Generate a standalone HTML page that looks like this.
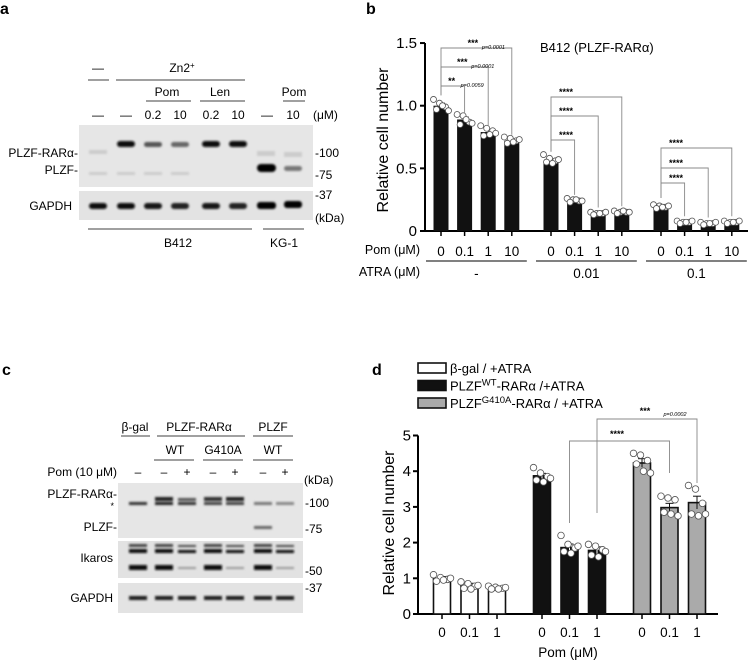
<!DOCTYPE html>
<html><head><meta charset="utf-8"><style>
body{margin:0;background:#fff}
svg{display:block;font-family:"Liberation Sans",Arial,sans-serif}
</style></head><body>
<svg id="fig" width="750" height="663" viewBox="0 0 750 663" xmlns="http://www.w3.org/2000/svg">
<defs>
<filter id="bl" x="-20%" y="-100%" width="140%" height="300%"><feGaussianBlur stdDeviation="1.1"/></filter>
</defs>
<text x="0" y="14" font-size="16" font-weight="bold">a</text>
<text x="366" y="14" font-size="16" font-weight="bold">b</text>
<text x="2" y="375" font-size="16" font-weight="bold">c</text>
<text x="372" y="375" font-size="16" font-weight="bold">d</text>

<g font-size="12">
<text x="98" y="72" text-anchor="middle">—</text>
<line x1="88" y1="80" x2="109" y2="80" stroke="#000" stroke-width="0.8"/>
<text x="182" y="72" text-anchor="middle">Zn2<tspan font-size="8" dy="-4">+</tspan></text>
<line x1="116" y1="80" x2="245" y2="80" stroke="#000" stroke-width="0.8"/>
<text x="167" y="96" text-anchor="middle">Pom</text>
<line x1="146" y1="101" x2="191" y2="101" stroke="#000" stroke-width="0.8"/>
<text x="220" y="96" text-anchor="middle">Len</text>
<line x1="200" y1="101" x2="245" y2="101" stroke="#000" stroke-width="0.8"/>
<text x="294" y="96" text-anchor="middle">Pom</text>
<line x1="283" y1="101" x2="305" y2="101" stroke="#000" stroke-width="0.8"/>
<g text-anchor="middle">
<text x="98" y="119">—</text><text x="126" y="119">—</text><text x="153" y="119">0.2</text><text x="180" y="119">10</text>
<text x="211" y="119">0.2</text><text x="238" y="119">10</text><text x="267" y="119">—</text><text x="293" y="119">10</text>
</g>
<text x="313" y="119">(μM)</text>
<rect x="79" y="125" width="234" height="62" fill="#e6e6e6"/>
<rect x="79" y="191" width="234" height="29" fill="#e3e3e3"/>
<g filter="url(#bl)">
<rect x="117" y="141" width="18" height="6" rx="3" fill="#111"/>
<rect x="144" y="142" width="18" height="5" rx="2.5" fill="#555"/>
<rect x="171" y="142" width="18" height="5" rx="2.5" fill="#666"/>
<rect x="202" y="141" width="18" height="6" rx="3" fill="#111"/>
<rect x="229" y="141" width="18" height="6" rx="3" fill="#111"/>
<rect x="257" y="164" width="19" height="8" rx="4" fill="#000"/>
<rect x="284" y="166" width="18" height="5" rx="2.5" fill="#777"/>
<g fill="#ccc"><rect x="89" y="150" width="18" height="4"/><rect x="89" y="172" width="18" height="3"/><rect x="117" y="172" width="18" height="3"/><rect x="144" y="172" width="18" height="3"/><rect x="171" y="172" width="18" height="3"/><rect x="257" y="151" width="18" height="5"/><rect x="284" y="152" width="18" height="5"/></g>
<rect x="89" y="203" width="18" height="6" rx="3" fill="#111"/><rect x="117" y="203" width="18" height="6" rx="3" fill="#111"/>
<rect x="144" y="203" width="18" height="6" rx="3" fill="#151515"/><rect x="171" y="203" width="18" height="6" rx="3" fill="#222"/>
<rect x="202" y="203" width="18" height="6" rx="3" fill="#151515"/><rect x="229" y="203" width="18" height="6" rx="3" fill="#222"/>
<rect x="257" y="202" width="19" height="7" rx="3" fill="#000"/><rect x="284" y="201" width="18" height="7" rx="3" fill="#000"/>
</g>
<g text-anchor="end"><text x="78" y="157">PLZF-RARα-</text><text x="78" y="174">PLZF-</text><text x="72" y="210">GAPDH</text></g>
<text x="315" y="157">-100</text><text x="315" y="179">-75</text><text x="315" y="199">-37</text><text x="315" y="222">(kDa)</text>
<line x1="88" y1="229" x2="252" y2="229" stroke="#000" stroke-width="0.8"/>
<line x1="263" y1="229" x2="304" y2="229" stroke="#000" stroke-width="0.8"/>
<text x="178" y="247" text-anchor="middle">B412</text><text x="284" y="247" text-anchor="middle">KG-1</text>
</g>

<g font-size="12">
<text x="135" y="431" text-anchor="middle">β-gal</text>
<line x1="121" y1="436" x2="150" y2="436" stroke="#000" stroke-width="0.8"/>
<text x="199" y="431" text-anchor="middle">PLZF-RARα</text>
<line x1="157" y1="436" x2="245" y2="436" stroke="#000" stroke-width="0.8"/>
<text x="273" y="431" text-anchor="middle">PLZF</text>
<line x1="253" y1="436" x2="293" y2="436" stroke="#000" stroke-width="0.8"/>
<text x="175" y="454" text-anchor="middle">WT</text><line x1="154" y1="460" x2="194" y2="460" stroke="#000" stroke-width="0.8"/>
<text x="223" y="454" text-anchor="middle">G410A</text><line x1="203" y1="460" x2="243" y2="460" stroke="#000" stroke-width="0.8"/>
<text x="273" y="454" text-anchor="middle">WT</text><line x1="253" y1="460" x2="293" y2="460" stroke="#000" stroke-width="0.8"/>
<text x="117" y="476" text-anchor="end">Pom (10 μM)</text>
<g text-anchor="middle"><text x="138" y="476">–</text><text x="164" y="476">–</text><text x="187" y="476">+</text><text x="213" y="476">–</text><text x="235" y="476">+</text><text x="263" y="476">–</text><text x="285" y="476">+</text></g>
<text x="304" y="484">(kDa)</text>
<rect x="118" y="483" width="185" height="55" fill="#e6e6e6"/>
<rect x="118" y="541" width="185" height="37" fill="#e2e2e2"/>
<rect x="118" y="583" width="185" height="30" fill="#e3e3e3"/>
<g filter="url(#bl)">
<rect x="129" y="502" width="18" height="3" fill="#333"/>
<rect x="155" y="497" width="18" height="4" fill="#222"/><rect x="155" y="502" width="18" height="3" fill="#222"/>
<rect x="178" y="498" width="18" height="3" fill="#555"/><rect x="178" y="502" width="18" height="3" fill="#333"/>
<rect x="204" y="497" width="18" height="4" fill="#333"/><rect x="204" y="502" width="18" height="3" fill="#444"/>
<rect x="226" y="497" width="18" height="4" fill="#222"/><rect x="226" y="502" width="18" height="3" fill="#444"/>
<rect x="254" y="502" width="18" height="3" fill="#777"/><rect x="276" y="502" width="18" height="3" fill="#888"/>
<rect x="254" y="526" width="18" height="3" fill="#666"/>
<g fill="#444"><rect x="129" y="544" width="18" height="3"/><rect x="155" y="544" width="18" height="3"/><rect x="178" y="545" width="18" height="2"/><rect x="204" y="544" width="18" height="3"/><rect x="226" y="545" width="18" height="2"/><rect x="254" y="544" width="18" height="3"/><rect x="276" y="545" width="18" height="2"/></g>
<g fill="#111"><rect x="129" y="549" width="18" height="4"/><rect x="155" y="549" width="18" height="4"/><rect x="178" y="550" width="18" height="3"/><rect x="204" y="549" width="18" height="4"/><rect x="226" y="550" width="18" height="3"/><rect x="254" y="549" width="18" height="4"/><rect x="276" y="550" width="18" height="3"/></g>
<g fill="#111"><rect x="129" y="565" width="18" height="5"/><rect x="155" y="565" width="18" height="5"/><rect x="204" y="565" width="18" height="5"/><rect x="254" y="565" width="18" height="5"/></g>
<g fill="#999"><rect x="178" y="567" width="18" height="2"/><rect x="226" y="567" width="18" height="2"/><rect x="276" y="567" width="18" height="2"/></g>
<g fill="#1a1a1a"><rect x="129" y="596" width="18" height="4"/><rect x="155" y="596" width="18" height="4"/><rect x="178" y="596" width="18" height="4"/><rect x="204" y="596" width="18" height="4"/><rect x="226" y="596" width="18" height="4"/><rect x="254" y="596" width="18" height="4"/><rect x="276" y="596" width="18" height="4"/></g>
</g>
<g text-anchor="end"><text x="117" y="498">PLZF-RARα-</text><text x="114" y="509" font-size="9">*</text><text x="117" y="531">PLZF-</text><text x="113" y="562">Ikaros</text><text x="113" y="602">GAPDH</text></g>
<text x="305" y="507">-100</text><text x="305" y="533">-75</text><text x="305" y="575">-50</text><text x="305" y="592">-37</text>
</g>

<g id="chartB"></g>
<g id="chartD"></g>
</svg>
<script>
const bPom = ["0","0.1","1","10"];
const bAtra = ["-","0.01","0.1"];
const bMeans = [[1.00,0.89,0.79,0.72],[0.56,0.24,0.14,0.15],[0.19,0.07,0.06,0.07]];
const bSem = [[0.02,0.02,0.02,0.01],[0.01,0.01,0.01,0.01],[0.01,0.005,0.005,0.005]];
const bPts = [[[1.05,1.02,0.99,0.97,1.00,0.96],[0.93,0.92,0.87,0.85,0.89,0.86],[0.84,0.82,0.80,0.76,0.77,0.78],[0.75,0.74,0.72,0.70,0.71,0.73]],
 [[0.61,0.58,0.56,0.55,0.54,0.57],[0.26,0.25,0.24,0.23,0.25,0.24],[0.15,0.14,0.14,0.13,0.14,0.15],[0.16,0.15,0.15,0.14,0.16,0.15]],
 [[0.21,0.20,0.19,0.18,0.19,0.20],[0.08,0.07,0.07,0.06,0.07,0.08],[0.07,0.06,0.06,0.05,0.06,0.07],[0.08,0.07,0.07,0.06,0.07,0.08]]];
const bTicks = [0,0.5,1.0,1.5];
const bTickLabels = ["0","0.5","1.0","1.5"];

const dPom = ["0","0.1","1"];
const dSeries = ["β-gal / +ATRA","PLZF-WT-RARα /+ATRA","PLZF-G410A-RARα / +ATRA"];
const dMeans = [[1.00,0.80,0.73],[3.87,1.86,1.78],[4.23,2.98,3.12]];
const dSem = [[0.05,0.06,0.03],[0.07,0.10,0.10],[0.12,0.12,0.18]];
const dPts = [[[1.1,1.02,0.97,0.92,0.95,1.0],[0.9,0.85,0.78,0.72,0.7,0.8],[0.78,0.75,0.72,0.7,0.7,0.74]],
 [[4.1,3.95,3.85,3.75,3.7,3.8],[2.2,1.95,1.85,1.75,1.7,1.9],[1.95,1.9,1.8,1.65,1.6,1.75]],
 [[4.5,4.45,4.3,4.2,4.0,3.95],[3.3,3.25,3.2,2.85,2.8,2.75],[3.6,3.5,3.1,2.8,2.75,2.8]]];
const dTicks = [0,1,2,3,4,5];
const dFills = ["#fff","#111","#aaa"];

const NS="http://www.w3.org/2000/svg";
function mk(parent,tag,attrs,text){const e=document.createElementNS(NS,tag);for(const k in attrs)e.setAttribute(k,attrs[k]);if(text!==undefined)e.textContent=text;parent.appendChild(e);return e;}

(function(){
const g=document.getElementById('chartB');
const y0=231, pxu=125.3, axX=425;
const yB=v=>y0-v*pxu;
const xB=(gi,i)=>441+gi*110+i*23.6;
mk(g,'line',{x1:axX,y1:yB(1.5),x2:axX,y2:y0+1,stroke:'#000','stroke-width':2});
mk(g,'line',{x1:axX,y1:y0,x2:748,y2:y0,stroke:'#000','stroke-width':2});
bTicks.forEach((t,k)=>{
  const tk=mk(g,'line',{x1:axX-5,y1:yB(t),x2:axX,y2:yB(t),stroke:'#000','stroke-width':2});
  
  
  const tl=mk(g,'text',{x:axX-8,y:yB(t)+5,'font-size':15,'text-anchor':'end'},bTickLabels[k]);
  
  
});
const yl=mk(g,'text',{x:0,y:0,'font-size':16,'text-anchor':'middle',transform:'translate(388,140) rotate(-90)'},'Relative cell number');


const tt=mk(g,'text',{x:540,y:52,'font-size':13},'B412 (PLZF-RARα)');


mk(g,'text',{x:420,y:254,'font-size':12.5,'text-anchor':'end'},'Pom (μM)');
mk(g,'text',{x:420,y:276,'font-size':12.5,'text-anchor':'end'},'ATRA (μM)');
bMeans.forEach((grp,gi)=>{
  grp.forEach((v,i)=>{
    const cx=xB(gi,i);
    const bar=mk(g,'rect',{x:cx-7.5,y:yB(v),width:15,height:y0-yB(v),fill:'#111'});
    
    
    mk(g,'line',{x1:cx,y1:y0,x2:cx,y2:y0+5,stroke:'#000','stroke-width':1.5});
    mk(g,'text',{x:cx,y:256,'font-size':13.5,'text-anchor':'middle'},bPom[i]);
    const e=bSem[gi][i];
    mk(g,'line',{x1:cx,y1:yB(v+e),x2:cx,y2:yB(v),stroke:'#111','stroke-width':1});
    mk(g,'line',{x1:cx-4,y1:yB(v+e),x2:cx+4,y2:yB(v+e),stroke:'#111','stroke-width':1});
    bPts[gi][i].forEach((p,k)=>{
      const dot=mk(g,'circle',{cx:cx-6+(k%3)*6+(k>2?3:0)-1.5,cy:yB(p),r:3,fill:'#fff',stroke:'#555','stroke-width':0.8});
      
      
    });
  });
  mk(g,'line',{x1:xB(gi,0)-15,y1:261,x2:xB(gi,3)+15,y2:261,stroke:'#000','stroke-width':1});
  mk(g,'text',{x:(xB(gi,0)+xB(gi,3))/2,y:278,'font-size':13.5,'text-anchor':'middle'},bAtra[gi]);
});
const brk=[[0,1,86,'**','p=0.0059'],[0,2,67,'***','p=0.0001'],[0,3,48,'***','p=0.0001'],
 [1,1,140,'****',''],[1,2,116,'****',''],[1,3,97,'****',''],
 [2,1,183,'****',''],[2,2,168,'****',''],[2,3,148,'****','']];
brk.forEach(b=>{
  const [gi,i,yy,s,p]=b;
  const x1=xB(gi,0), x2=xB(gi,i);
  const top1=yB(bMeans[gi][0]+bSem[gi][0])-8, top2=yB(bMeans[gi][i])-6;
  const pl=mk(g,'polyline',{points:`${x1},${top1} ${x1},${yy} ${x2},${yy} ${x2},${top2}`,fill:'none',stroke:'#888','stroke-width':0.9});
  
  
  const sx = gi===0 ? x1+(x2-x1)*0.45 : x1+8;
  mk(g,'text',{x:sx,y:yy-2,'font-size':9,'font-weight':'bold','text-anchor':gi===0?'middle':'start'},s);
  if(p) mk(g,'text',{x:sx+9,y:yy+1,'font-size':5.5,'font-style':'italic'},p);
});
})();

(function(){
const g=document.getElementById('chartD');
const y0=614, pxu=35.7, axX=418;
const yD=v=>y0-v*pxu;
const xD=(gi,i)=>442+gi*100+i*27.5;
mk(g,'line',{x1:axX,y1:yD(5),x2:axX,y2:y0+1,stroke:'#000','stroke-width':2});
mk(g,'line',{x1:axX,y1:y0,x2:718,y2:y0,stroke:'#000','stroke-width':2});
dTicks.forEach(t=>{
  mk(g,'line',{x1:axX-5,y1:yD(t),x2:axX,y2:yD(t),stroke:'#000','stroke-width':2});
  const tl=mk(g,'text',{x:axX-7,y:yD(t)+5,'font-size':15,'text-anchor':'end'},String(t));
  
  
});
const yl=mk(g,'text',{x:0,y:0,'font-size':16,'text-anchor':'middle',transform:'translate(394,523) rotate(-90)'},'Relative cell number');


const xl=mk(g,'text',{x:568,y:657,'font-size':13.5,'text-anchor':'middle'},'Pom (μM)');


dMeans.forEach((grp,gi)=>{
  grp.forEach((v,i)=>{
    const cx=xD(gi,i);
    const bar=mk(g,'rect',{x:cx-8.5,y:yD(v),width:17,height:y0-yD(v),fill:dFills[gi],stroke:'#111','stroke-width':1.6});
    
    
    mk(g,'line',{x1:cx,y1:y0,x2:cx,y2:y0+5,stroke:'#000','stroke-width':1.5});
    mk(g,'text',{x:cx,y:637,'font-size':13.5,'text-anchor':'middle'},dPom[i]);
    const e=dSem[gi][i];
    mk(g,'line',{x1:cx,y1:yD(v+e),x2:cx,y2:yD(v-e),stroke:gi===1?'#fff':'#111','stroke-width':1});
    mk(g,'line',{x1:cx-4,y1:yD(v+e),x2:cx+4,y2:yD(v+e),stroke:'#111','stroke-width':1});
    dPts[gi][i].forEach((p,k)=>{
      const dot=mk(g,'circle',{cx:cx-7+(k%3)*7+(k>2?3:0)-1.5,cy:yD(p),r:3.3,fill:'#fff',stroke:'#555','stroke-width':0.8});
      
      
    });
  });
});
const lg=[["β-gal / +ATRA",null,null],["PLZF","WT","-RARα /+ATRA"],["PLZF","G410A","-RARα / +ATRA"]];
lg.forEach((L,k)=>{
  const yy=368+k*17.5;
  const r=mk(g,'rect',{x:418,y:yy-5,width:28,height:10,fill:dFills[k],stroke:'#111','stroke-width':1.6});
  
  
  const t=mk(g,'text',{x:450,y:yy+5,'font-size':13});
  
  
  if(L[1]===null){t.textContent=L[0];}
  else{mk(t,'tspan',{},L[0]);mk(t,'tspan',{dy:-5,'font-size':9.5},L[1]);mk(t,'tspan',{dy:5},L[2]);}
});
const b1=mk(g,'polyline',{points:`${xD(1,1)},523 ${xD(1,1)},441 ${xD(2,1)},441 ${xD(2,1)},473`,fill:'none',stroke:'#888','stroke-width':0.9});


const b2=mk(g,'polyline',{points:`${xD(1,2)},513 ${xD(1,2)},419 ${xD(2,2)},419 ${xD(2,2)},483`,fill:'none',stroke:'#888','stroke-width':0.9});


mk(g,'text',{x:617,y:437,'font-size':9,'font-weight':'bold','text-anchor':'middle'},'****');
mk(g,'text',{x:645,y:414,'font-size':9,'font-weight':'bold','text-anchor':'middle'},'***');
mk(g,'text',{x:675,y:416,'font-size':5.5,'font-style':'italic','text-anchor':'middle'},'p=0.0002');
})();
</script>
</body></html>
